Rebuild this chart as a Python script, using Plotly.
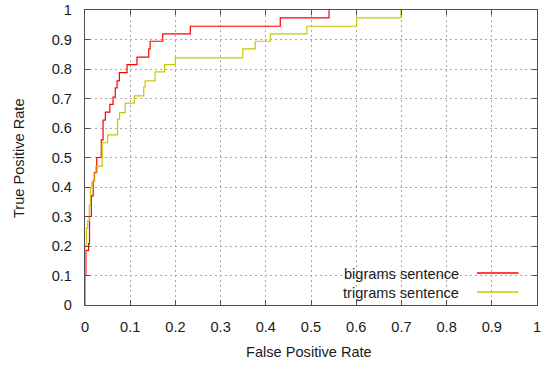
import plotly.graph_objects as go

# ---- data ----
bigram_fpr = [0, 0, 0.002, 0.008, 0.010, 0.014, 0.018, 0.021, 0.026, 0.036, 0.040, 0.045,
              0.055, 0.062, 0.067, 0.071, 0.076, 0.093, 0.115, 0.141, 0.144, 0.172,
              0.233, 0.432, 0.540]
bigram_tpr = [0, 0.1, 0.185, 0.208, 0.30, 0.37, 0.42, 0.45, 0.50, 0.56, 0.627, 0.654,
              0.68, 0.705, 0.736, 0.76, 0.788, 0.815, 0.84, 0.868, 0.894, 0.919,
              0.945, 0.973, 1.0]

trigram_fpr = [0, 0, 0.003, 0.006, 0.0095, 0.012, 0.0155, 0.020, 0.024, 0.038, 0.050,
               0.072, 0.0765, 0.089, 0.109, 0.130, 0.133, 0.155, 0.176, 0.1997,
               0.349, 0.3765, 0.41, 0.491, 0.601, 0.699]
trigram_tpr = [0, 0.2, 0.26, 0.285, 0.338, 0.398, 0.418, 0.446, 0.471, 0.55, 0.577,
               0.63, 0.652, 0.684, 0.709, 0.739, 0.760, 0.79, 0.815, 0.838,
               0.868, 0.894, 0.919, 0.945, 0.973, 1.0]

tick_vals = [0, 0.1, 0.2, 0.3, 0.4, 0.5, 0.6, 0.7, 0.8, 0.9, 1]
tick_text = ["0", "0.1", "0.2", "0.3", "0.4", "0.5", "0.6", "0.7", "0.8", "0.9", "1"]

series_names = ["bigrams sentence", "trigrams sentence"]
series_colors = ["#ff0000", "#c8c800"]

# ---- figure ----
W, H = 545, 365
L, R, T, B = 85, 8, 10, 60
pw, ph = W - L - R, H - T - B

def px(xp):
    return (xp - L) / pw

def py(yp):
    return (H - B - yp) / ph

font = dict(family="Liberation Sans, Arial, sans-serif", size=14.6, color="#1a1a1a")

fig = go.Figure()
for xs, ys, name, col in [(bigram_fpr, bigram_tpr, series_names[0], series_colors[0]),
                          (trigram_fpr, trigram_tpr, series_names[1], series_colors[1])]:
    fig.add_trace(go.Scatter(x=xs, y=ys, mode="lines", name=name,
                             line=dict(color=col, width=1.2, shape="hv"),
                             showlegend=False, cliponaxis=True))

axis_common = dict(
    range=[0, 1], tickvals=tick_vals, ticktext=tick_text,
    showline=True, linecolor="#505050", linewidth=1.3, mirror="ticks",
    ticks="inside", ticklen=5, tickcolor="#505050", tickwidth=1,
    showgrid=True, gridcolor="#a8a8a8", gridwidth=1, griddash="2px,3px",
    zeroline=False, tickfont=font, layer="above traces",
)
fig.update_xaxes(ticklabelstandoff=8, **axis_common)
fig.update_yaxes(ticklabelstandoff=9, **axis_common)

annotations = [
    dict(text="False Positive Rate", x=px(309), y=py(352), xref="paper", yref="paper",
         showarrow=False, font=font, xanchor="center", yanchor="middle"),
    dict(text="True Positive Rate", x=px(19), y=py(158), xref="paper", yref="paper",
         showarrow=False, font=font, xanchor="center", yanchor="middle", textangle=-90),
]
shapes = []
legend_rows = [273.0, 292.0]
for name, col, yrow in zip(series_names, series_colors, legend_rows):
    annotations.append(dict(text=name, x=px(461), y=py(yrow + 0.5), xref="paper", yref="paper",
                            showarrow=False, font=font, xanchor="right", yanchor="middle"))
    shapes.append(dict(type="line", xref="paper", yref="paper", layer="above",
                       x0=px(477), x1=px(518.5), y0=py(yrow), y1=py(yrow),
                       line=dict(color=col, width=1.5)))

fig.update_layout(
    width=W, height=H, margin=dict(l=L, r=R, t=T, b=B, autoexpand=False),
    paper_bgcolor="white", plot_bgcolor="white",
    annotations=annotations, shapes=shapes, showlegend=False, font=font,
)

fig.write_html("out.html")
